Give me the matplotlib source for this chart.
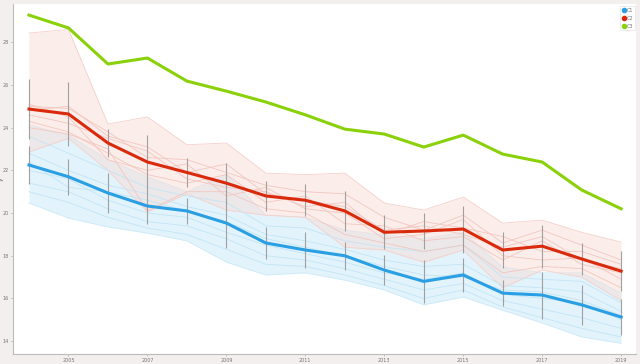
import matplotlib
matplotlib.use('Agg')
import matplotlib.pyplot as plt

years = list(range(2004, 2020))
xticks = [2005, 2007, 2009, 2011, 2013, 2015, 2017, 2019]
yticks = [14, 16, 18, 20, 22, 24, 26, 28]

# cluster means
c1 = [22.25, 21.7, 20.94, 20.33, 20.1, 19.53, 18.6, 18.27, 18.0, 17.33, 16.8, 17.1, 16.25, 16.16, 15.7, 15.13]
c2 = [24.87, 24.64, 23.28, 22.39, 21.9, 21.4, 20.8, 20.6, 20.1, 19.1, 19.16, 19.25, 18.27, 18.45, 17.85, 17.28]
c3 = [29.27, 28.67, 26.98, 27.26, 26.18, 25.71, 25.2, 24.6, 23.93, 23.7, 23.09, 23.65, 22.76, 22.39, 21.08, 20.2]

# error bar half widths
c1_err = [0.9, 0.85, 0.95, 0.85, 0.6, 1.15, 0.75, 0.85, 0.65, 0.7, 1.0, 0.8, 0.6, 1.1, 0.95, 0.85]
c2_err = [1.4, 1.5, 0.65, 1.25, 0.7, 0.95, 0.7, 0.75, 0.95, 0.8, 0.85, 1.1, 0.85, 1.0, 0.75, 0.95]

# min / max envelopes
c1_lo = [20.47, 19.77, 19.35, 19.06, 18.7, 17.7, 17.1, 17.2, 16.86, 16.4, 15.7, 16.07, 15.45, 14.85, 14.2, 13.9]
c1_hi = [24.12, 23.65, 22.5, 21.7, 21.0, 21.8, 19.9, 19.8, 19.2, 18.97, 18.8, 19.1, 17.47, 17.2, 17.2, 16.25]
c2_lo = [22.86, 23.5, 22.0, 20.05, 20.9, 20.14, 19.9, 19.8, 18.4, 18.27, 17.7, 18.27, 16.5, 17.33, 17.0, 15.9]
c2_hi = [28.43, 28.6, 24.17, 24.5, 23.2, 23.28, 21.87, 21.8, 21.87, 20.47, 20.14, 20.75, 19.53, 19.67, 19.1, 18.64]

# individual members
c1_members = [
    [23.6, 22.8, 22.0, 21.2, 20.8, 20.5, 19.4, 19.3, 18.7, 18.4, 18.2, 18.5, 17.0, 16.9, 16.8, 15.8],
    [22.8, 22.0, 21.3, 20.9, 20.3, 19.9, 19.0, 18.7, 18.3, 17.8, 17.5, 17.6, 16.6, 16.5, 16.3, 15.4],
    [22.0, 21.6, 20.6, 20.0, 19.8, 19.1, 18.5, 18.1, 17.7, 17.2, 16.9, 17.2, 16.2, 16.0, 15.8, 15.0],
    [21.4, 21.0, 20.2, 19.6, 19.4, 18.8, 18.0, 17.8, 17.4, 16.9, 16.4, 16.7, 15.9, 15.5, 15.1, 14.6],
    [21.0, 20.5, 19.8, 19.3, 19.0, 18.3, 17.6, 17.5, 17.1, 16.6, 16.0, 16.4, 15.6, 15.1, 14.6, 14.2],
    [22.4, 21.2, 21.0, 20.6, 20.1, 19.6, 18.8, 18.4, 18.0, 17.5, 17.1, 17.0, 16.4, 16.3, 15.9, 15.2],
]
c2_members = [
    [25.0, 24.9, 23.8, 22.6, 22.5, 21.9, 21.3, 21.0, 20.9, 19.8, 19.2, 19.9, 18.6, 19.2, 18.5, 17.8],
    [24.6, 24.2, 23.5, 22.9, 21.6, 21.2, 21.0, 20.3, 20.5, 19.0, 19.6, 19.3, 18.9, 18.2, 18.2, 17.6],
    [24.3, 23.8, 22.8, 21.8, 21.4, 21.8, 20.5, 20.8, 19.5, 19.4, 18.7, 18.9, 17.8, 18.7, 17.6, 17.2],
    [25.1, 24.5, 22.5, 22.0, 22.3, 20.8, 21.2, 20.2, 20.0, 18.8, 19.0, 19.7, 18.0, 17.8, 17.9, 16.9],
    [24.0, 23.7, 23.0, 20.1, 21.0, 21.0, 20.2, 20.0, 19.0, 18.6, 18.2, 18.5, 17.2, 17.5, 17.4, 16.5],
    [24.8, 25.0, 23.6, 23.1, 21.9, 22.3, 20.9, 20.6, 20.3, 19.2, 19.4, 19.0, 18.4, 18.9, 17.8, 17.4],
]

blue = '#2a9fe3'
red = '#d92a0c'
green = '#8ad10a'

fig = plt.figure(figsize=(6.4, 3.64), dpi=100, facecolor='#f4efef')
ax = fig.add_axes([0.0203, 0.0275, 0.9737, 0.9615])
ax.set_facecolor('white')

# bands
ax.fill_between(years, c1_lo, c1_hi, color='#e2f3fb', lw=0, zorder=1)
ax.plot(years, c1_lo, color='#cdeaf8', lw=0.6, zorder=1)
ax.plot(years, c1_hi, color='#cdeaf8', lw=0.6, zorder=1)
ax.fill_between(years, c2_lo, c2_hi, color='#f7dcd7', alpha=0.5, lw=0, zorder=2)
ax.plot(years, c2_lo, color='#f5d0ca', lw=0.6, zorder=2)
ax.plot(years, c2_hi, color='#f5d0ca', lw=0.6, zorder=2)

for m in c1_members:
    ax.plot(years, m, color='#c2e5f6', lw=0.6, zorder=3)
for m in c2_members:
    ax.plot(years, m, color='#f3c6bf', lw=0.6, zorder=3)

# error bars
ax.errorbar(years, c2, yerr=c2_err, fmt='none', ecolor='#a0a0a0', elinewidth=0.8, capsize=0, zorder=4)
ax.errorbar(years, c1, yerr=c1_err, fmt='none', ecolor='#a0a0a0', elinewidth=0.8, capsize=0, zorder=4)

# means
ax.plot(years, c3, color=green, lw=2.2, zorder=5)
ax.plot(years, c2, color=red, lw=2.2, zorder=5)
ax.plot(years, c1, color=blue, lw=2.2, zorder=5)

ax.set_xlim(2003.595, 2019.38)
ax.set_ylim(13.4, 29.79)
ax.set_xticks(xticks)
ax.set_yticks(yticks)
ax.tick_params(labelsize=3.5, labelcolor='#777777', color='#aaaaaa', length=1.5, width=0.5, pad=1.5)
ax.set_ylabel('y', fontsize=4.5, color='#666666')
ax.yaxis.set_label_coords(-0.014, 0.5)

for side in ['left', 'bottom']:
    ax.spines[side].set_color('#bbbbbb')
    ax.spines[side].set_linewidth(0.8)
for side in ['top', 'right']:
    ax.spines[side].set_visible(False)

handles = [
    plt.Line2D([], [], ls='none', marker='o', ms=3, color=blue, label='C1'),
    plt.Line2D([], [], ls='none', marker='o', ms=3, color=red, label='C2'),
    plt.Line2D([], [], ls='none', marker='o', ms=3, color=green, label='C3'),
]
leg = ax.legend(handles=handles, loc='upper right', bbox_to_anchor=(0.998, 0.995),
                fontsize=3.5, frameon=True, handletextpad=0.2, borderpad=0.4,
                labelspacing=0.6, handlelength=0.8, borderaxespad=0, fancybox=False)
leg.get_frame().set_edgecolor('#dddddd')
leg.get_frame().set_linewidth(0.5)
for t in leg.get_texts():
    t.set_color('#777777')

fig.savefig('out.png', dpi=100, facecolor=fig.get_facecolor())
